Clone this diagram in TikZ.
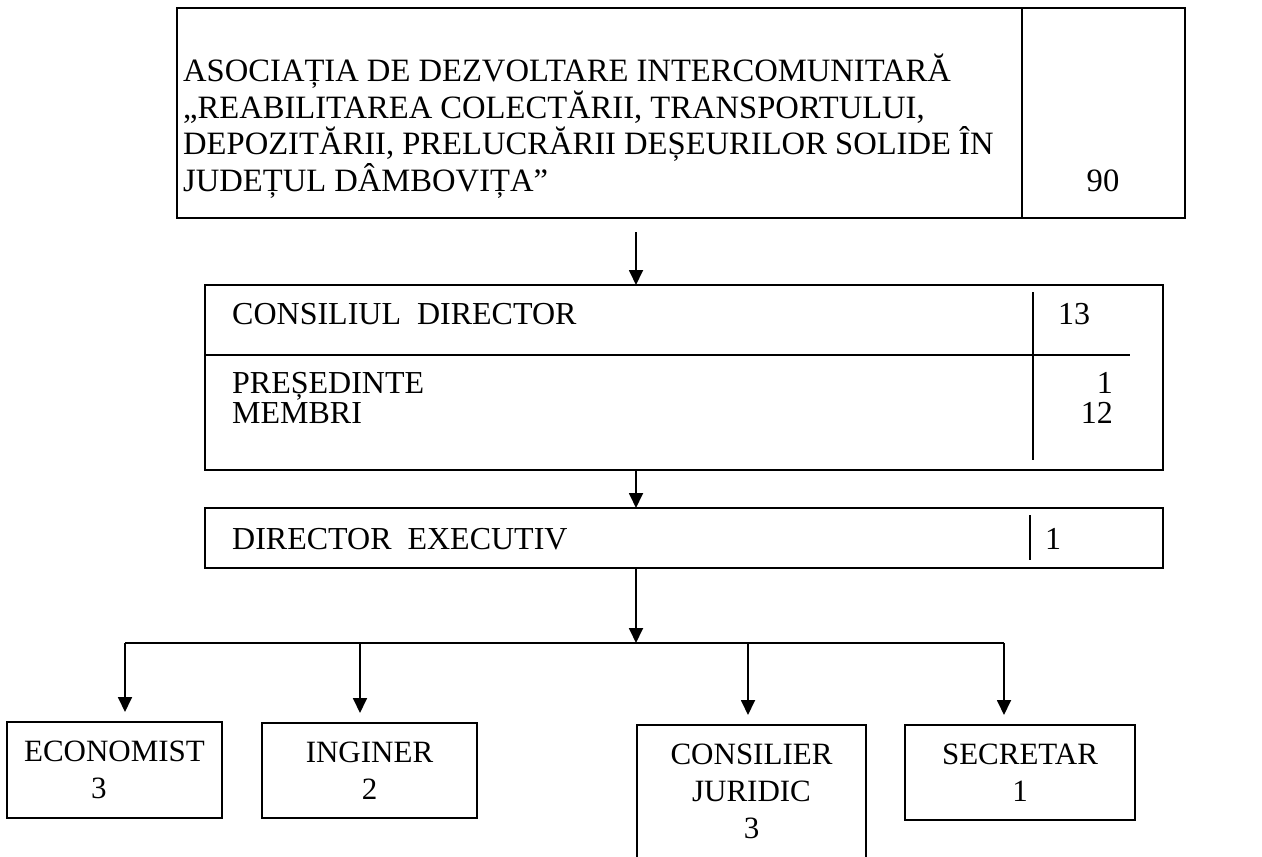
\documentclass[tikz,border=0pt]{standalone}
\usepackage{fontspec}
\setmainfont{Liberation Serif}
\usetikzlibrary{arrows.meta}
\begin{document}
\begin{tikzpicture}[x=1pt,y=-1pt,>={Triangle[width=14pt,length=15pt]},line join=miter,
	font=\fontsize{32}{37}\selectfont,
	box/.style={draw,line width=2.4pt,inner sep=0pt,outer sep=0pt,anchor=north west,align=center},
	txt/.style={inner sep=0pt,anchor=base west},
	num/.style={inner sep=0pt,anchor=base},
	rule/.style={line width=2.2pt},
	conn/.style={line width=1.8pt,->}]
	\useasboundingbox (0,0) rectangle (1262,857);
	\def\xa{636} % axa sagetilor
	\path
	(\xa,232) coordinate (a1)
	(\xa,643) coordinate (bus)
	(125,643) coordinate (b1)
	(360,643) coordinate (b2)
	(748,643) coordinate (b3)
	(1004,643) coordinate (b4);
	% caseta asociatiei
	\node[box,minimum width=1008pt,minimum height=210pt] (adi) at (177,8) {};
	\draw[rule] (1022,8)--(1022,218);
	\begin{scope}[font=\fontsize{32.6}{37}\selectfont]
	\node[txt] (l1) at (183,81) {ASOCIAȚIA DE DEZVOLTARE INTERCOMUNITARĂ};
	\node[txt] (l2) at (183,118) {„REABILITAREA COLECTĂRII, TRANSPORTULUI,};
	\node[txt] (l3) at (183,154) {DEPOZITĂRII, PRELUCRĂRII DEȘEURILOR SOLIDE ÎN};
	\node[txt] (l4) at (183,191) {JUDEȚUL DÂMBOVIȚA”};
	\node[num] (n90) at (1103,191) {90};
	\end{scope}
	% consiliul director
	\node[box,minimum width=958pt,minimum height=185pt] (cons) at (205,285) {};
	\draw[rule,line width=2.8pt] (cons.west |- 0,355)--(1130,355);
	\draw[rule] (1033,292)--(1033,460);
	\node[txt] (cd) at (232,324) {CONSILIUL\ \ DIRECTOR};
	\node[txt] (n13) at (1058,324) {13};
	\node[txt] (pres) at (232,393) {PREȘEDINTE};
	\node[txt] (mem) at (232,423) {MEMBRI};
	\node[num,anchor=base east] (n1) at (1113,393) {1};
	\node[num,anchor=base east] (n12) at (1113,423) {12};
	% director executiv
	\node[box,minimum width=958pt,minimum height=60pt] (dir) at (205,508) {};
	\draw[rule] (1030,515)--(1030,560);
	\node[txt] (de) at (232,549) {DIRECTOR\ \ EXECUTIV};
	\node[num] (nd) at (1053,549) {1};
	% compartimente
	\begin{scope}[font=\fontsize{31}{37}\selectfont]
	\node[box,minimum width=215pt,minimum height=96pt] (econ) at (7,722) {ECONOMIST\\3\hspace*{1em}};
	\node[box,minimum width=215pt,minimum height=95pt] (ing) at (262,723) {INGINER\\2};
	\node[box,draw=none,minimum width=229pt,minimum height=132pt] (jur) at (637,725) {CONSILIER\\JURIDIC\\3};
	\node[box,minimum width=230pt,minimum height=95pt] (secr) at (905,725) {SECRETAR\\1};
	\end{scope}
	\draw[line width=2.4pt] (jur.south west)--(jur.north west)--(jur.north east)--(jur.south east);
	% sageti
	\draw[conn] (a1)--(cons.north -| a1);
	\draw[conn] (cons.south -| a1)--(dir.north -| a1);
	\draw[conn] (dir.south -| a1)--(bus);
	\draw[line width=1.8pt] (b1)--(b4);
	\draw[conn,shorten >=10pt] (b1)--(econ.north -| b1);
	\draw[conn,shorten >=10pt] (b2)--(ing.north -| b2);
	\draw[conn,shorten >=10pt] (b3)--(jur.north -| b3);
	\draw[conn,shorten >=10pt] (b4)--(secr.north -| b4);
\end{tikzpicture}
\end{document}
